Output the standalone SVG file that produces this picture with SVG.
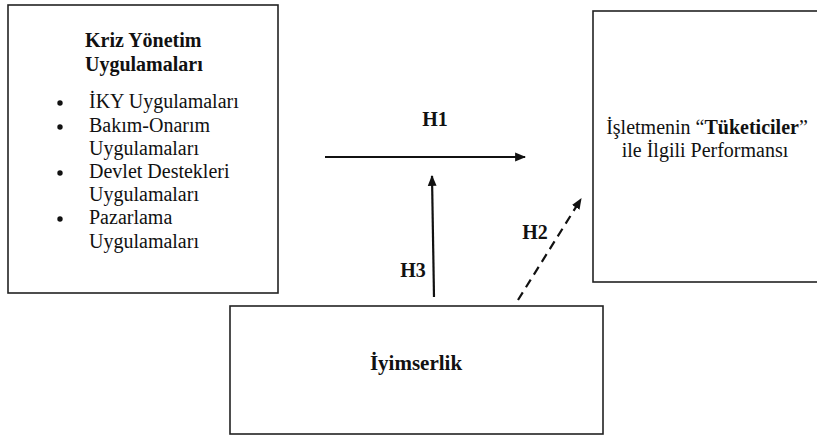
<svg xmlns="http://www.w3.org/2000/svg" width="817" height="435" viewBox="0 0 817 435">
<style>
.box{fill:#fff;stroke:#222;stroke-width:1.6}
.t{font-family:"Liberation Serif","Times New Roman",serif;font-size:20px;fill:#111}
.b{font-weight:bold}
.ln{stroke:#111;stroke-width:2.2;fill:none}
</style>
<defs>
<marker id="ah" viewBox="0 0 10 10" refX="9" refY="5" markerWidth="5" markerHeight="5" orient="auto" markerUnits="strokeWidth">
<path d="M0,1 L10,5 L0,9 z" fill="#111"/>
</marker>
</defs>
<rect width="817" height="435" fill="#fff"/>
<g id="kriz">
<rect class="box" x="8" y="5" width="270" height="288"/>
<text class="t b" x="85" y="47">Kriz Yönetim</text>
<text class="t b" x="85" y="71">Uygulamaları</text>
<circle cx="60" cy="103" r="2.7" fill="#111"/>
<circle cx="60" cy="127" r="2.7" fill="#111"/>
<circle cx="60" cy="173" r="2.7" fill="#111"/>
<circle cx="60" cy="219" r="2.7" fill="#111"/>
<text class="t" x="89" y="108">İKY Uygulamaları</text>
<text class="t" x="89" y="132">Bakım-Onarım</text>
<text class="t" x="89" y="155">Uygulamaları</text>
<text class="t" x="89" y="178">Devlet Destekleri</text>
<text class="t" x="89" y="201">Uygulamaları</text>
<text class="t" x="89" y="224">Pazarlama</text>
<text class="t" x="89" y="248">Uygulamaları</text>
</g>
<g id="performans">
<rect class="box" x="593" y="11" width="230" height="271"/>
<text class="t" x="707" y="134" text-anchor="middle">İşletmenin “<tspan class="b">Tüketiciler</tspan>”</text>
<text class="t" x="705" y="157" text-anchor="middle">ile İlgili Performansı</text>
</g>
<g id="iyimserlik">
<rect class="box" x="230" y="306" width="373" height="128"/>
<text class="t b" x="416" y="370" text-anchor="middle" style="font-size:21px">İyimserlik</text>
</g>
<g id="connectors">
<line class="ln" x1="325" y1="157" x2="525" y2="157" marker-end="url(#ah)"/>
<line class="ln" x1="434" y1="297" x2="432" y2="176" marker-end="url(#ah)"/>
<line class="ln" x1="518" y1="300" x2="581" y2="199" stroke-dasharray="9,6" marker-end="url(#ah)"/>
<text class="t b" x="435" y="126" text-anchor="middle">H1</text>
<text class="t b" x="535" y="239" text-anchor="middle">H2</text>
<text class="t b" x="413" y="277" text-anchor="middle">H3</text>
</g>
</svg>
